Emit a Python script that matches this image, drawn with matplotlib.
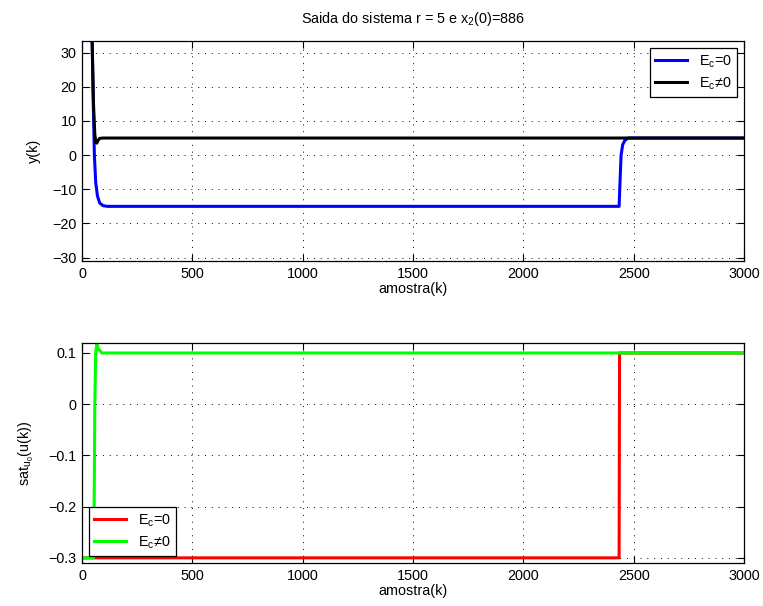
import matplotlib
matplotlib.use("Agg")
import matplotlib.pyplot as plt

plt.rcParams['font.family'] = ['Liberation Sans', 'DejaVu Sans']
plt.rcParams['mathtext.fontset'] = 'custom'
plt.rcParams['mathtext.rm'] = 'Liberation Sans'
plt.rcParams['mathtext.it'] = 'Liberation Sans'
plt.rcParams['mathtext.default'] = 'regular'
plt.rcParams['axes.unicode_minus'] = True

# Output y(k): samples (k, value)
k_y_open = [0, 40, 46, 51, 56, 62, 70, 80, 95, 115, 2434, 2438, 2443, 2450, 2460, 2475, 3000]
y_open = [200, 60, 33, 15, 0, -8, -12, -14, -14.8, -15, -15, -8, 0, 3, 4.3, 5, 5]
k_y_comp = [0, 40, 46, 52, 58, 63, 67, 72, 80, 95, 3000]
y_comp = [200, 60, 33, 15, 6, 3.7, 3.5, 4.3, 4.9, 5, 5]

# Saturated control input
k_u_open = [0, 2434, 2436, 3000]
u_open = [-0.3, -0.3, 0.1, 0.1]
k_u_comp = [0, 52, 55, 58, 62, 67, 75, 90, 3000]
u_comp = [-0.3, -0.3, -0.2, 0.0, 0.1, 0.117, 0.108, 0.1, 0.1]

xticks = [0, 500, 1000, 1500, 2000, 2500, 3000]
yticks_top = [-30, -20, -10, 0, 10, 20, 30]
yticks_bot = [-0.3, -0.2, -0.1, 0, 0.1]
ytick_labels_bot = ['\u22120.3', '\u22120.2', '\u22120.1', '0', '0.1']

lab_open = r'E$_c$=0'
lab_comp = 'E$_c$\u22600'

FS = 10.4
fig = plt.figure(figsize=(7.63, 6.06), dpi=100)
ax1 = fig.add_axes([0.1075, 0.5693, 0.8676, 0.363])
ax2 = fig.add_axes([0.1075, 0.071, 0.8676, 0.363])

def style(ax):
    ax.set_xlim(0, 3000)
    ax.set_xticks(xticks)
    ax.grid(True, color='k', linestyle=(0, (1, 6)), linewidth=0.7)
    ax.tick_params(direction='in', top=True, right=True, length=4.8, width=0.8,
                   labelsize=FS, pad=4)
    for s in ax.spines.values():
        s.set_linewidth(0.9)
    ax.set_xlabel('amostra(k)', fontsize=FS, labelpad=1)

def legend(ax, loc):
    leg = ax.legend(loc=loc, fontsize=FS, frameon=True, fancybox=False,
                    borderaxespad=0.5, handlelength=2.2, labelspacing=0.4,
                    borderpad=0.35, handletextpad=0.8)
    leg.get_frame().set_edgecolor('k')
    leg.get_frame().set_linewidth(0.9)
    leg.get_frame().set_alpha(1)

ax1.plot(k_y_open, y_open, color='#0000ff', lw=2.2, label=lab_open)
ax1.plot(k_y_comp, y_comp, color='k', lw=2.2, label=lab_comp)
style(ax1)
ax1.set_ylim(-31, 33.4)
ax1.set_yticks(yticks_top)
ax1.set_ylabel('y(k)', fontsize=FS, labelpad=8)
ax1.set_title(r'Saida do sistema r = 5 e x$_2$(0)=886', fontsize=FS, pad=13)
legend(ax1, 'upper right')

ax2.plot(k_u_open, u_open, color='#ff0000', lw=2.2, label=lab_open)
ax2.plot(k_u_comp, u_comp, color='#00ff00', lw=2.2, label=lab_comp)
style(ax2)
ax2.set_ylim(-0.31, 0.1195)
ax2.set_yticks(yticks_bot)
ax2.set_yticklabels(ytick_labels_bot)
ax2.set_ylabel(r'sat$_{u_0}$(u(k))', fontsize=FS, labelpad=9)
legend(ax2, 'lower left')

fig.savefig('out.png', dpi=100, facecolor='white')
